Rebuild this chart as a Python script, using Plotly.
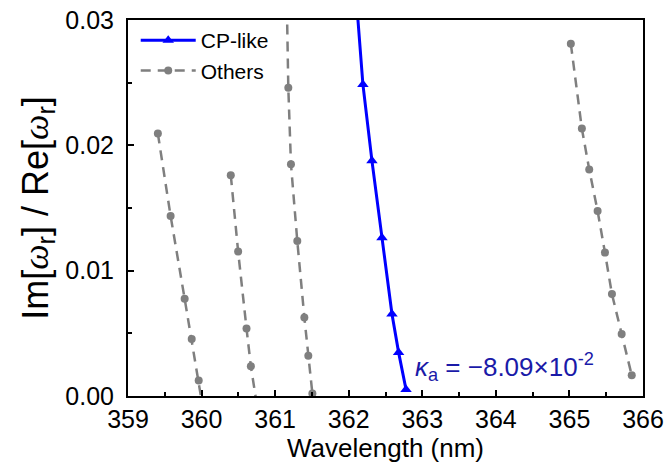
import plotly.graph_objects as go

# CP-like mode
cp_x = [362.115, 362.193, 362.316, 362.452, 362.588, 362.678, 362.779]
cp_y = [0.0308, 0.02486, 0.01876, 0.01263, 0.00654, 0.00348, 0.00052]

# Other modes
o1_x = [359.406, 359.579, 359.770, 359.866, 359.961, 360.05]
o1_y = [0.02094, 0.01436, 0.00776, 0.00455, 0.00123, -0.0021]
o2_x = [360.397, 360.497, 360.611, 360.670, 360.76]
o2_y = [0.01762, 0.01152, 0.00539, 0.00237, -0.0010]
o3_x = [361.16, 361.179, 361.215, 361.301, 361.397, 361.451, 361.506]
o3_y = [0.0310, 0.0246, 0.0185, 0.01237, 0.00627, 0.00322, 0.0002]
o4_x = [365.019, 365.169, 365.269, 365.383, 365.483, 365.578, 365.710, 365.847]
o4_y = [0.0281, 0.02134, 0.01808, 0.01476, 0.01144, 0.00813, 0.00495, 0.00165]

x_ticks = [359, 360, 361, 362, 363, 364, 365, 366]
y_ticks = [0.00, 0.01, 0.02, 0.03]

FONT = "Arial, Liberation Sans, sans-serif"
SERIF = "'Liberation Serif','Times New Roman',serif"
GREY = "#7f7f7f"
BLUE = "#0000ff"

fig = go.Figure()
others = [(o1_x, o1_y), (o2_x, o2_y), (o3_x, o3_y), (o4_x, o4_y)]
for i, (xs, ys) in enumerate(others):
    fig.add_trace(go.Scatter(
        x=xs, y=ys, mode="lines+markers", name="Others",
        line=dict(color=GREY, width=2.5, dash="10px,7px"),
        marker=dict(symbol="circle", size=8, color=GREY),
        showlegend=(i == 0), legendrank=2))

fig.add_trace(go.Scatter(
    x=cp_x, y=cp_y, mode="lines+markers", name="CP-like",
    line=dict(color=BLUE, width=3),
    marker=dict(symbol="triangle-up", size=10, color=BLUE),
    legendrank=1))

fig.add_annotation(
    x=362.88, y=0.0023, xref="x", yref="y", xanchor="left", yanchor="middle",
    text="<i>κ</i><sub>a</sub> = −8.09×10<sup>-2</sup>", showarrow=False,
    font=dict(family=FONT, size=26, color="#1a1aa8"))

axis_common = dict(
    showline=True, linecolor="black", linewidth=2, mirror=True,
    ticks="inside", ticklen=6, tickwidth=2, tickcolor="black",
    showgrid=False, zeroline=False, automargin=False,
    tickfont=dict(family=FONT, size=25, color="black"),
)

fig.update_xaxes(
    range=[359, 366], tickvals=x_ticks, ticktext=[str(v) for v in x_ticks],
    minor=dict(ticks="inside", ticklen=4, tickwidth=2, tickcolor="black", dtick=0.5, showgrid=False),
    title=dict(text="Wavelength (nm)", font=dict(family=FONT, size=26, color="black"), standoff=6),
    **axis_common)
wr = f"<span style=\"font-family:{SERIF}\"><i>ω</i></span><sub>r</sub>"
fig.update_yaxes(
    range=[0, 0.03], tickvals=y_ticks, ticktext=["%.2f" % v for v in y_ticks],
    ticklabelstandoff=7,
    minor=dict(ticks="inside", ticklen=4, tickwidth=2, tickcolor="black", dtick=0.005, showgrid=False),
    title=dict(text=f"Im[{wr}] / Re[{wr}]",
               font=dict(family=FONT, size=36, color="black"), standoff=6),
    **axis_common)

fig.update_layout(
    width=665, height=470,
    margin=dict(l=128, r=22, t=20, b=74),
    plot_bgcolor="white", paper_bgcolor="white",
    legend=dict(x=0.015, y=1.0, xanchor="left", yanchor="top",
                bgcolor="rgba(0,0,0,0)", borderwidth=0,
                font=dict(family=FONT, size=21, color="black"),
                itemwidth=55, tracegroupgap=0),
)

fig.write_html("out.html", config={"displayModeBar": False},
               post_script="document.body.style.margin='0';")
